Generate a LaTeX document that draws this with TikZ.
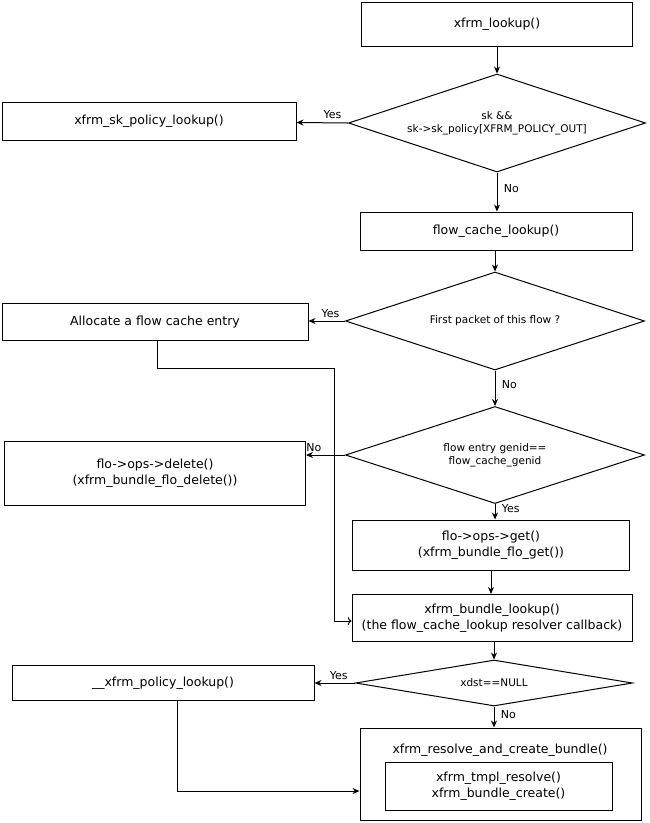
\documentclass[tikz,border=0pt]{standalone}
\usepackage{fontspec}
\setmainfont{DejaVu Sans}
\usetikzlibrary{shapes.geometric,arrows.meta}
\tikzset{
  proc/.style={draw,line width=1pt,minimum width=#1,align=center,font=\fontsize{12.5}{16}\selectfont,inner sep=2pt},
  dec/.style={draw,line width=1pt,diamond,inner sep=0pt,label={[align=center,font=\fontsize{10.5}{12.5}\selectfont]center:#1}},
  lbl/.style={font=\fontsize{11}{13}\selectfont},
  flow/.style={line width=1pt,-{Stealth[length=7pt,width=6pt]}},
  back/.style={line width=1pt,->}
}
\begin{document}
\begin{tikzpicture}[x=1pt,y=-1pt]
  \useasboundingbox (0,0) rectangle (650,823);
  % main column
  \node[proc=271pt,minimum height=44pt] (lookup) at (497,24) {xfrm\_lookup()};
  \node[dec={sk \&\&\\sk->sk\_policy[XFRM\_POLICY\_OUT]},minimum width=297pt,minimum height=98pt] (sk) at (497,123) {};
  \node[proc=294pt,minimum height=38pt] (skpol) at (149,121) {xfrm\_sk\_policy\_lookup()};
  \node[proc=272pt,minimum height=38pt] (fcl) at (496,231) {flow\_cache\_lookup()};
  \node[dec={First packet of this flow ?},minimum width=299pt,minimum height=98pt] (first) at (495,321) {};
  \node[proc=306pt,minimum height=37pt] (alloc) at (155,322) {Allocate a flow cache entry};
  \node[dec={flow entry genid==\\flow\_cache\_genid},minimum width=299pt,minimum height=97pt] (genid) at (495,455) {};
  \node[proc=301pt,minimum height=64pt] (del) at (155,473) {flo->ops->delete()\\(xfrm\_bundle\_flo\_delete())};
  \node[proc=277pt,minimum height=50pt] (get) at (491,545) {flo->ops->get()\\(xfrm\_bundle\_flo\_get())};
  \node[proc=280pt,minimum height=47pt] (bl) at (492,618) {xfrm\_bundle\_lookup()\\(the flow\_cache\_lookup resolver callback)};
  \node[dec={xdst==NULL},minimum width=277pt,minimum height=46pt] (xdst) at (494,683) {};
  \node[proc=302pt,minimum height=35pt] (pol) at (163,683) {\_\_xfrm\_policy\_lookup()};
  \node[draw,line width=1pt,minimum width=281pt,minimum height=92pt] (rc) at (500.5,774) {};
  \node[font=\fontsize{12.5}{16}\selectfont] (rct) at (500,750) {xfrm\_resolve\_and\_create\_bundle()};
  \node[proc=227pt,minimum height=48pt] (inner) at (498.5,786) {xfrm\_tmpl\_resolve()\\xfrm\_bundle\_create()};
  % connectors
  \draw[flow] (lookup) -- (sk);
  \draw[flow] (sk.west) -- node[lbl,above,pos=0.3] {Yes} (skpol);
  \draw[flow] (sk.south) -- node[lbl,right,pos=0.4,xshift=3pt] {No} (sk.south |- fcl.north);
  \draw[flow] (fcl.south -| first.north) -- (first.north);
  \draw[flow] (first.west) -- node[lbl,above,pos=0.4] {Yes} (alloc.east |- first.west);
  \draw[flow] (first.south) -- node[lbl,right,pos=0.4,xshift=3pt] {No} (genid.north);
  \draw[flow] (genid.west) -- node[lbl,above,pos=0.8] {No} (del.east |- genid.west);
  \draw[flow] (genid.south) -- node[lbl,right,pos=0.3,xshift=3pt] {Yes} (genid.south |- get.north);
  \draw[flow] (get.south) -- (get.south |- bl.north);
  \draw[flow] (bl.south -| xdst.north) -- (xdst.north);
  \draw[flow] (xdst.west) -- node[lbl,above,pos=0.4] {Yes} (pol.east |- xdst.west);
  \draw[flow] (xdst.south) -- node[lbl,right,pos=0.4,xshift=3pt] {No} (xdst.south |- rc.north);
  \draw[back] (157,340) -- (157,368) -- (334,368) -- (334,621) -- (bl.west |- 0,621);
  \draw[flow] (177,701) -- (177,791) -- (rc.west |- 0,791);
\end{tikzpicture}
\end{document}
